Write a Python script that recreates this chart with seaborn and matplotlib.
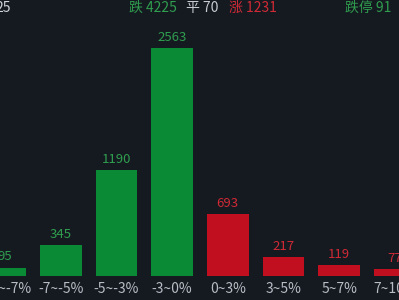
import matplotlib
matplotlib.use("Agg")
import matplotlib.pyplot as plt
import seaborn as sns
import pandas as pd

categories = ["-10~-7%", "-7~-5%", "-5~-3%", "-3~0%", "0~3%", "3~5%", "5~7%", "7~10%"]
values = [95, 345, 1190, 2563, 693, 217, 119, 77]
direction = ["down", "down", "down", "down", "up", "up", "up", "up"]

header_labels = ["跌 4225", "平 70", "涨 1231", "跌停 91"]
left_label = "25"

BG = "#151920"
GREEN = "#0b8a36"
RED = "#c10f1f"
GREEN_TXT = "#2f9e4f"
RED_TXT = "#cf2a36"
GRAY_TXT = "#b8bcc4"

sns.set_theme(style="dark")
plt.rcParams["font.family"] = ["Noto Sans CJK SC", "DejaVu Sans"]

df = pd.DataFrame({"cat": categories, "val": values, "dir": direction})

fig = plt.figure(figsize=(3.99, 3.0), dpi=100, facecolor=BG)
ax = fig.add_axes([0, 24 / 300, 1, 276 / 300])
ax.set_facecolor(BG)

sns.barplot(data=df, x="cat", y="val", hue="dir", order=categories,
            palette={"down": GREEN, "up": RED}, dodge=False, width=0.75,
            legend=False, ax=ax, saturation=1, linewidth=0, edgecolor="none")

ax.set_xlim(-5 / 55.7, 394 / 55.7)
ax.set_ylim(0, 3102)
for s in ax.spines.values():
    s.set_visible(False)
ax.set_yticks([])
ax.set_xlabel("")
ax.set_ylabel("")
ax.tick_params(axis="x", colors=GRAY_TXT, labelsize=10, length=0, pad=4)
ax.grid(False)

for i, (v, d) in enumerate(zip(values, direction)):
    ax.annotate(str(v), (i, v), xytext=(0, 3), textcoords="offset points",
                ha="center", va="bottom", fontsize=9.5,
                color=GREEN_TXT if d == "down" else RED_TXT)

# header texts (pixel positions)
def ftxt(x, y, s, c, ha="left"):
    fig.text(x / 399, 1 - y / 300, s, color=c, fontsize=10, ha=ha, va="center")

ftxt(11, 8, left_label, "#d0d4da", ha="right")
ftxt(129, 8, header_labels[0], GREEN_TXT)
ftxt(186, 8, header_labels[1], "#c8ccd2")
ftxt(229, 8, header_labels[2], RED_TXT)
ftxt(345, 8, header_labels[3], GREEN_TXT)

fig.savefig("out.png", dpi=100, facecolor=BG)
